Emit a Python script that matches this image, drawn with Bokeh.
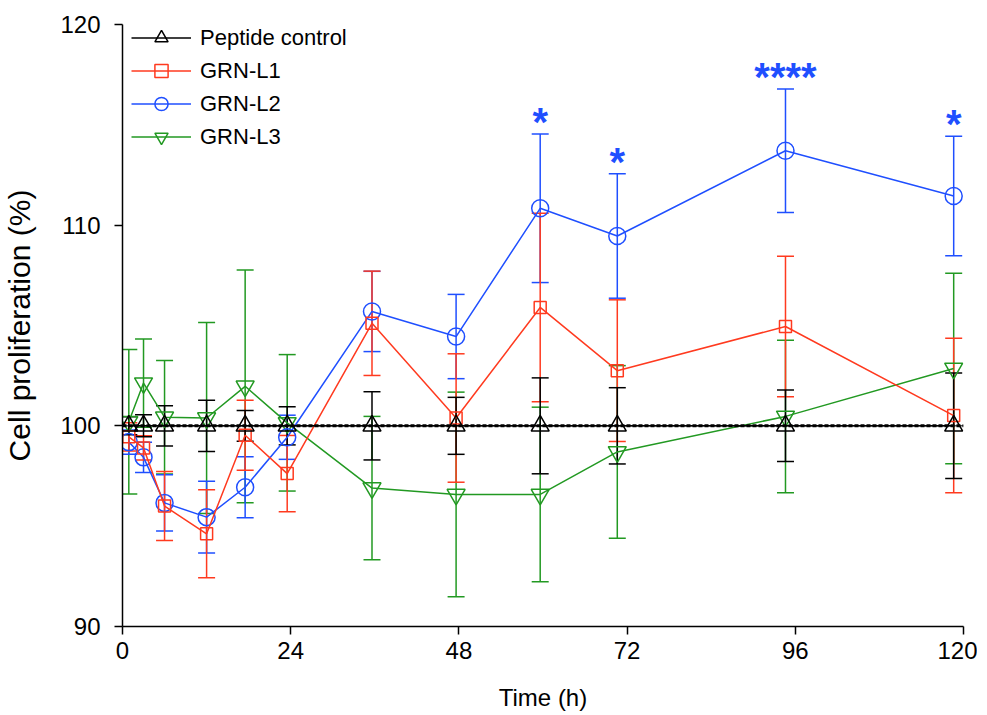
from bokeh.plotting import figure
from bokeh.models import (ColumnDataSource, Whisker, TeeHead, FixedTicker, Legend,
                          LegendItem, Span, Range1d)
from bokeh.core.properties import value
from bokeh.embed import file_html
from bokeh.resources import INLINE

# ---------------- data ----------------
time_h = [0.9, 3, 6, 12, 17.5, 23.5, 35.6, 47.6, 59.6, 70.6, 94.6, 118.6]

control_mean = [100, 100, 100, 100, 100, 100, 100, 100, 100, 100, 100, 100]
control_err = [0.45, 0.55, 1.0, 1.28, 0.77, 0.95, 1.7, 1.42, 2.39, 1.9, 1.78, 2.63]

l1_mean = [99.45, 98.9, 96.0, 94.62, 99.53, 97.62, 105.11, 100.39, 105.9, 102.75, 104.95, 100.51]
l1_err = [0.7, 0.6, 1.72, 2.19, 1.74, 1.9, 2.6, 3.2, 4.7, 3.53, 3.5, 3.85]

l2_mean = [99.19, 98.43, 96.16, 95.45, 96.94, 99.43, 105.7, 104.45, 110.84, 109.46, 113.71, 111.45]
l2_err = [0.6, 0.75, 1.4, 1.79, 1.52, 1.1, 2.0, 2.1, 3.7, 3.1, 3.08, 2.98]

l3_mean = [100.2, 102.13, 100.43, 100.39, 101.97, 100.15, 96.9, 96.58, 96.58, 98.7, 100.47, 102.86]
l3_err = [3.6, 2.2, 2.83, 4.76, 5.8, 3.4, 3.57, 5.1, 4.35, 4.3, 3.8, 4.75]

series_names = ["Peptide control", "GRN-L1", "GRN-L2", "GRN-L3"]

sig_index = [8, 9, 10, 11]          # GRN-L2 points with significance marks
sig_labels = ["*", "*", "****", "*"]

BASELINE = 100
x_ticks = [0, 24, 48, 72, 96, 120]
y_ticks = [90, 100, 110, 120]
Y_MIN, Y_MAX = 90, 120

# ---------------- styling ----------------
BLACK = "#000000"
RED = "#ff3a1f"
BLUE = "#1f4fff"
GREEN = "#229922"
FONT = "Liberation Sans"

p = figure(frame_width=841, frame_height=602,
           min_border_left=116, min_border_top=24, min_border_right=14, min_border_bottom=73,
           x_range=Range1d(0, 120), y_range=Range1d(Y_MIN, Y_MAX),
           output_backend="svg", toolbar_location=None)
p.grid.visible = False
p.outline_line_color = None
p.background_fill_color = "white"

for ax in (p.xaxis[0], p.yaxis[0]):
    ax.axis_line_width = 1.5
    ax.major_tick_line_width = 1.5
    ax.major_tick_in = 0
    ax.major_tick_out = 8
    ax.minor_tick_line_color = None
    ax.major_label_text_font = FONT
    ax.major_label_text_font_size = "24px"
    ax.major_label_text_color = "black"
    ax.axis_label_text_font_style = "normal"
    ax.axis_label_text_color = "black"

p.xaxis.ticker = FixedTicker(ticks=x_ticks)
p.yaxis.ticker = FixedTicker(ticks=y_ticks)
p.xaxis.axis_label = "Time (h)"
p.yaxis.axis_label = "Cell proliferation (%)"
p.xaxis.axis_label_text_font = FONT
p.xaxis.axis_label_text_font_size = "24px"
p.yaxis.axis_label_text_font = FONT
p.yaxis.axis_label_text_font_size = "30px"
p.xaxis.major_label_standoff = 7
p.yaxis.major_label_standoff = 14
p.xaxis.axis_label_standoff = 22
p.yaxis.axis_label_standoff = 21

# baseline (dotted heavy line at 100 %)
p.add_layout(Span(location=BASELINE, dimension="width", line_color="black", line_width=1))
p.add_layout(Span(location=BASELINE, dimension="width", line_color="black",
                  line_width=3, line_dash="4 2"))

series = [
    (series_names[3], l3_mean, l3_err, GREEN, "inverted_triangle", 18),
    (series_names[2], l2_mean, l2_err, BLUE, "circle", 17),
    (series_names[1], l1_mean, l1_err, RED, "square", 12),
    (series_names[0], control_mean, control_err, BLACK, "triangle", 18),
]

legend_map = {}
for name, mean, err, color, marker, size in series:
    src = ColumnDataSource(dict(
        x=time_h, y=mean,
        upper=[m + e for m, e in zip(mean, err)],
        lower=[m - e for m, e in zip(mean, err)],
    ))
    w = Whisker(base="x", upper="upper", lower="lower", source=src, dimension="height",
                line_color=color, line_width=1.5,
                upper_head=TeeHead(size=17, line_color=color, line_width=1.5),
                lower_head=TeeHead(size=17, line_color=color, line_width=1.5))
    p.add_layout(w)
    ln = p.line("x", "y", source=src, line_color=color, line_width=1.5)
    sc = p.scatter("x", "y", source=src, marker=marker, size=size, line_color=color,
                   line_width=1.5, fill_alpha=0)
    legend_map[name] = [ln, sc]

# significance marks above GRN-L2 error bars
sig_src = ColumnDataSource(dict(
    x=[time_h[i] for i in sig_index],
    y=[l2_mean[i] + l2_err[i] for i in sig_index],
    t=sig_labels,
))
p.text(x="x", y="y", text="t", source=sig_src, text_color=BLUE,
       text_font=value(FONT), text_font_style="bold", text_font_size="40px",
       text_align="center", text_baseline="alphabetic", y_offset=-12)

legend = Legend(items=[LegendItem(label=n, renderers=legend_map[n]) for n in series_names],
                location=(9, 473), glyph_width=60, glyph_height=33, label_height=33,
                spacing=0, padding=0, margin=0, label_standoff=9,
                border_line_color=None, background_fill_alpha=0,
                label_text_font=FONT, label_text_font_size="22px",
                label_text_color="black")
p.add_layout(legend)

open("out.html", "w").write(file_html(p, INLINE))
